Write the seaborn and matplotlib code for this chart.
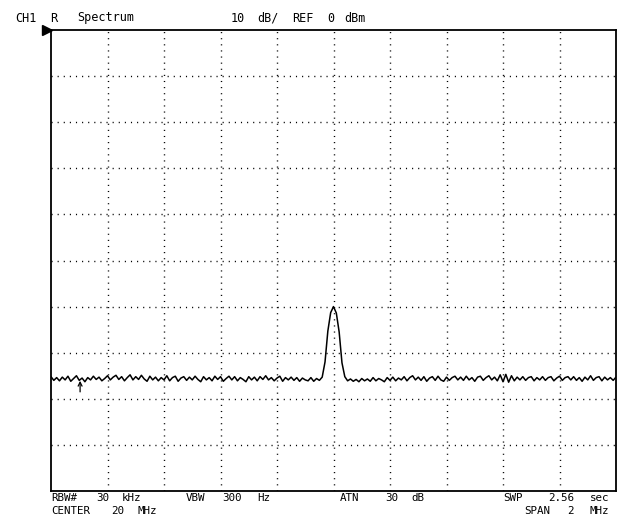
import numpy as np
import pandas as pd
import matplotlib
matplotlib.use("Agg")
import matplotlib.pyplot as plt
import seaborn as sns

# ---------------- data ----------------
f_start, f_stop = 19.0, 21.0          # MHz (center 20 MHz, span 2 MHz)
ref_level, db_per_div = 0.0, 10.0     # dBm, dB/div

trace_dbm = [
    -75.2, -76.0, -75.4, -76.1, -75.3, -75.9, -75.1, -76.2, -75.6, -75.0,
    -76.0, -75.5, -76.3, -75.4, -75.9, -75.1, -75.8, -75.3, -76.1, -75.6,
    -75.0, -75.9, -75.3, -74.9, -75.8, -75.2, -76.1, -75.4, -74.8, -75.9,
    -75.2, -75.8, -74.9, -75.7, -76.2, -75.1, -75.9, -75.3, -76.1, -75.4,
    -75.9, -75.0, -76.1, -75.4, -75.1, -76.2, -75.5, -75.2, -76.0, -75.3,
    -75.9, -75.1, -75.8, -76.3, -75.2, -75.9, -75.4, -76.1, -75.1, -75.8,
    -75.2, -76.2, -75.6, -75.1, -75.9, -75.2, -76.1, -75.4, -75.8, -76.3,
    -75.2, -75.9, -75.3, -76.1, -75.2, -75.8, -75.0, -75.9, -75.4, -76.1,
    -75.5, -75.1, -76.2, -75.4, -75.9, -75.3, -76.0, -75.4, -76.2, -75.5,
    -75.9, -76.1, -75.4, -76.2, -75.6, -76.0,
    -75.3, -72.0, -65.3, -61.3, -60.0, -61.4, -65.5, -72.2, -75.2,
    -76.1, -75.7, -76.2, -75.8, -76.3, -75.6, -76.1, -75.7, -76.2, -75.4,
    -76.1, -75.6, -75.9, -76.3, -75.4, -76.0, -75.3, -76.1, -75.5, -75.9,
    -75.2, -76.1, -75.4, -75.0, -75.9, -75.3, -76.0, -75.2, -76.2, -75.5,
    -75.2, -76.0, -75.1, -75.9, -76.2, -75.3, -76.0, -75.4, -75.1, -75.9,
    -75.3, -76.0, -75.1, -75.9, -75.4, -76.2, -75.3, -75.1, -76.0, -75.4,
    -75.0, -75.9, -75.3, -76.1, -74.8, -76.3, -74.7, -76.4, -75.0, -76.1,
    -75.3, -75.9, -75.2, -76.0, -75.4, -75.2, -76.1, -75.4, -75.9, -75.2,
    -76.0, -75.4, -75.2, -76.1, -75.5, -75.1, -76.0, -75.4, -75.2, -75.9,
    -75.2, -76.0, -75.4, -76.2, -75.3, -75.9, -75.0, -76.0, -75.4, -75.2,
    -76.1, -75.3, -75.9, -75.4, -76.0, -75.3,
]

marker_freq = 19.103      # MHz, small arrow marker under the trace
marker_dbm = -76.1

header_words = [("CH1", 15), ("R", 50), ("Spectrum", 77),
                ("10", 231), ("dB/", 257), ("REF", 292), ("0", 327), ("dBm", 344)]
footer_row1 = [("RBW#", 51), ("30", 96), ("kHz", 122), ("VBW", 186), ("300", 222),
               ("Hz", 257), ("ATN", 340), ("30", 385), ("dB", 411),
               ("SWP", 503), ("2.56", 548), ("sec", 590)]
footer_row2 = [("CENTER", 51), ("20", 111), ("MHz", 137),
               ("SPAN", 524), ("2", 567), ("MHz", 590)]

# ---------------- figure ----------------
W, H = 619, 519
sns.set_theme(style="white")
plt.rcParams["font.family"] = ["DejaVu Sans Mono", "DejaVu Sans"]

fig = plt.figure(figsize=(W / 100, H / 100), dpi=100)
fig.patch.set_facecolor("white")
L, R, T, B = 51, 616, 30, 491
ax = fig.add_axes([L / W, 1 - B / H, (R - L) / W, (B - T) / H])
ax.set_facecolor("white")

df = pd.DataFrame({"freq": np.linspace(f_start, f_stop, len(trace_dbm)),
                   "dbm": trace_dbm})
sns.lineplot(data=df, x="freq", y="dbm", ax=ax, color="black", lw=1.1,
             estimator=None, sort=False)

ax.set_xlim(f_start, f_stop)
ax.set_ylim(ref_level - 10 * db_per_div, ref_level)
ax.set_xticks(np.linspace(f_start, f_stop, 11)[1:-1])
ax.set_yticks(np.linspace(ref_level - 10 * db_per_div, ref_level, 11)[1:-1])
ax.tick_params(length=0, labelbottom=False, labelleft=False)
ax.set_xlabel("")
ax.set_ylabel("")
ax.grid(True, color="black", lw=1.0, linestyle=(0, (0.8, 3.6)))
for s in ax.spines.values():
    s.set_visible(True)
    s.set_color("black")
    s.set_linewidth(1.3)

# small arrow marker
ax.annotate("", xy=(marker_freq, marker_dbm), xytext=(marker_freq, marker_dbm - 2.4),
            arrowprops=dict(arrowstyle="->", color="black", lw=0.9,
                            shrinkA=0, shrinkB=0, mutation_scale=7))

# reference level triangle
ax.plot([-0.007], [1.0], marker=">", color="black", markersize=6.5,
        transform=ax.transAxes, clip_on=False)

fs = 7.8
for w, x in header_words:
    fig.text(x / W, 1 - 18 / H, w, fontsize=8.5, ha="left", va="center", color="black")
for w, x in footer_row1:
    fig.text(x / W, 1 - 498 / H, w, fontsize=fs, ha="left", va="center", color="black")
for w, x in footer_row2:
    fig.text(x / W, 1 - 511 / H, w, fontsize=fs, ha="left", va="center", color="black")

fig.savefig("out.png", dpi=100, facecolor="white")
